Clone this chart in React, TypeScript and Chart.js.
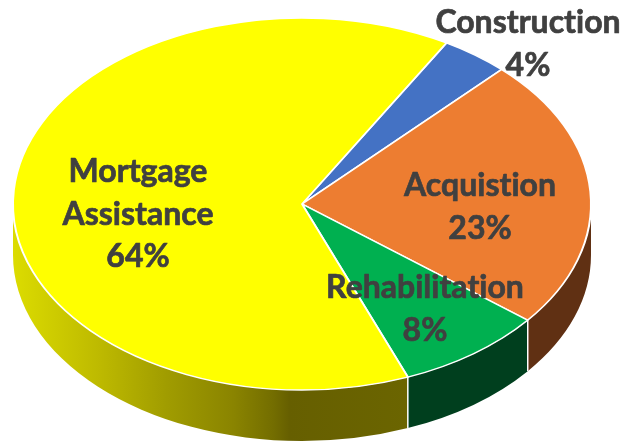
import React, { useEffect, useRef } from "react";
import { Chart, registerables } from "chart.js";

Chart.register(...registerables);

const categories = ["Construction", "Acquistion", "Rehabilitation", "Mortgage Assistance"];
const shares = [3.8, 23.6, 8.3, 64.3];
const percentLabels = ["4%", "23%", "8%", "64%"];
const topColors = ["#4472C4", "#ED7D31", "#00B050", "#FFFF00"];
const wallColors = ["#2A4578", "#603013", "#003F1E", "#6B6500"];

const CX = 302;
const CY = 204;
const RX = 289;
const RY = 186;
const DEPTH = 51;
const TEXT = "#404040";
const FONT = 'bold 32px Lato, "Open Sans", sans-serif';
const LINE = 42.5;

// Centre of each label's first line and its lines of text
const labelLayout = [
  { x: 528, y: 23, lines: ["Construction", "4%"] },
  { x: 480, y: 186, lines: ["Acquistion", "23%"] },
  { x: 425, y: 288, lines: ["Rehabilitation", "8%"] },
  { x: 138, y: 172, lines: ["Mortgage", "Assistance", "64%"] },
];

const pie3d = {
  id: "pie3d",
  beforeDatasetsDraw(chart: any) {
    const { ctx } = chart;
    const arcs = chart.getDatasetMeta(0).data;
    const yellowWall = ctx.createLinearGradient(CX - RX, 0, 408, 0);
    yellowWall.addColorStop(0, "#DCDC00");
    yellowWall.addColorStop(0.222, "#BDB900");
    yellowWall.addColorStop(0.39, "#A09C00");
    yellowWall.addColorStop(0.558, "#8A8400");
    yellowWall.addColorStop(0.66, "#736D00");
    yellowWall.addColorStop(0.7, "#665F00");
    yellowWall.addColorStop(1, "#6B6500");
    arcs.forEach((arc: any, i: number) => {
      const lo = Math.max(arc.startAngle, 0);
      const hi = Math.min(arc.endAngle, Math.PI);
      if (hi <= lo) return;
      ctx.save();
      ctx.beginPath();
      ctx.ellipse(CX, CY, RX, RY, 0, lo, hi, false);
      ctx.ellipse(CX, CY + DEPTH, RX, RY, 0, hi, lo, true);
      ctx.closePath();
      ctx.fillStyle = i === 3 ? yellowWall : wallColors[i];
      ctx.fill();
      ctx.restore();
    });
    ctx.save();
    ctx.strokeStyle = "#FFFFFF";
    ctx.lineWidth = 1.5;
    arcs.forEach((arc: any) => {
      const a = arc.endAngle;
      if (a > 0 && a < Math.PI) {
        const x = CX + RX * Math.cos(a);
        const y = CY + RY * Math.sin(a);
        ctx.beginPath();
        ctx.moveTo(x, y);
        ctx.lineTo(x, y + DEPTH);
        ctx.stroke();
      }
    });
    ctx.restore();
  },
  beforeDatasetDraw(chart: any) {
    const { ctx } = chart;
    const arc = chart.getDatasetMeta(0).data[0];
    ctx.save();
    ctx.translate(arc.x, arc.y);
    ctx.scale(1, RY / RX);
    ctx.translate(-arc.x, -arc.y);
  },
  afterDatasetDraw(chart: any) {
    chart.ctx.restore();
  },
  afterDatasetsDraw(chart: any) {
    const { ctx } = chart;
    ctx.save();
    ctx.font = FONT;
    ctx.fillStyle = TEXT;
    ctx.strokeStyle = TEXT;
    ctx.lineWidth = 0.7;
    ctx.lineJoin = "round";
    ctx.letterSpacing = "0.01px"; // keeps "ti" as two glyphs, as in the reference
    ctx.textAlign = "center";
    ctx.textBaseline = "middle";
    labelLayout.forEach((l) => {
      l.lines.forEach((t, k) => {
        ctx.fillText(t, l.x, l.y + k * LINE);
        ctx.strokeText(t, l.x, l.y + k * LINE);
      });
    });
    ctx.restore();
  },
};

export default function App() {
  const ref = useRef<HTMLCanvasElement>(null);
  useEffect(() => {
    const chart = new Chart(ref.current as HTMLCanvasElement, {
      type: "pie",
      data: {
        labels: categories.map((c, i) => `${c} ${percentLabels[i]}`),
        datasets: [
          {
            data: shares,
            backgroundColor: topColors,
            borderColor: "#FFFFFF",
            borderWidth: 2,
            clip: false,
          } as any,
        ],
      },
      options: {
        responsive: false,
        animation: false,
        radius: RX,
        rotation: 30,
        layout: { padding: { left: 0, top: 0, right: 621 - 2 * CX, bottom: 441 - 2 * CY } },
        plugins: { legend: { display: false }, tooltip: { enabled: false } },
      } as any,
      plugins: [pie3d],
    });
    return () => chart.destroy();
  }, []);
  return (
    <canvas
      ref={ref}
      width={621}
      height={441}
      style={{ position: "fixed", left: 0, top: 0, display: "block", filter: "blur(0.5px)" }}
    />
  );
}
